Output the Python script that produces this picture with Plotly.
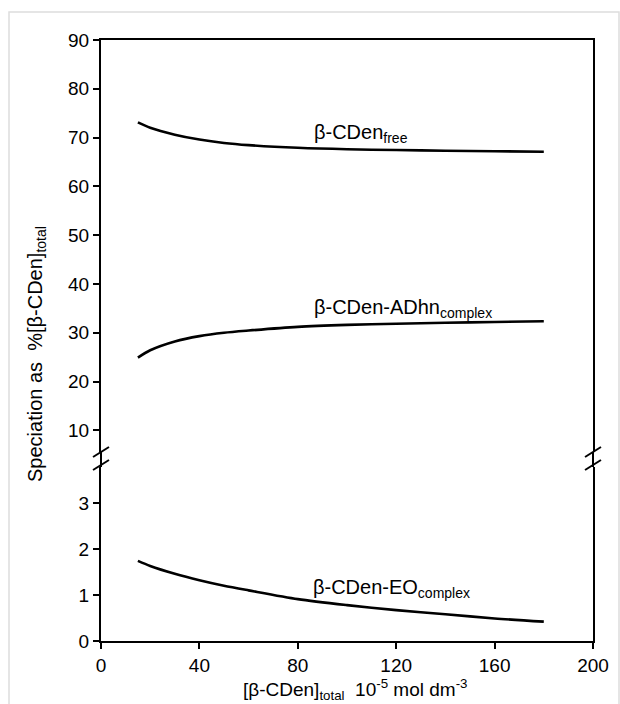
import plotly.graph_objects as go

conc = [15, 20, 30, 40, 50, 60, 80, 100, 120, 140, 160, 180]
free = [73.1, 72.0, 70.6, 69.6, 68.9, 68.45, 67.9, 67.6, 67.45, 67.3, 67.2, 67.1]
adhn = [24.9, 26.4, 28.2, 29.3, 30.0, 30.45, 31.2, 31.6, 31.85, 32.05, 32.2, 32.35]
eo = [1.74, 1.63, 1.46, 1.32, 1.2, 1.1, 0.91, 0.78, 0.67, 0.58, 0.49, 0.42]

upper_ticks = [10, 20, 30, 40, 50, 60, 70, 80, 90]
lower_ticks = [0, 1, 2, 3]
x_ticks = [0, 40, 80, 120, 160, 200]

FONT = "Liberation Sans"
W, H = 620, 704
L, R, T, B = 101, 27, 40, 63
plot_h = H - T - B
plot_w = W - L - R
up_bot_px = 452
lo_top_px = 467
up_dom = [(H - B - up_bot_px) / plot_h, 1.0]
lo_dom = [0.0, (H - B - lo_top_px) / plot_h]

line = dict(color="black", width=2.6, shape="spline", smoothing=0.8)

fig = go.Figure()
fig.add_trace(go.Scatter(x=conc, y=free, mode="lines", line=line, xaxis="x2", yaxis="y2", showlegend=False))
fig.add_trace(go.Scatter(x=conc, y=adhn, mode="lines", line=line, xaxis="x2", yaxis="y2", showlegend=False))
fig.add_trace(go.Scatter(x=conc, y=eo, mode="lines", line=line, xaxis="x", yaxis="y", showlegend=False))

tickfont = dict(family=FONT, size=19, color="black")
common_axis = dict(showline=True, linecolor="black", linewidth=2, ticks="outside",
                   ticklen=6, tickwidth=2, tickcolor="black", showgrid=False,
                   zeroline=False, tickfont=tickfont)

fig.update_layout(
    width=W, height=H,
    margin=dict(l=L, r=R, t=T, b=B),
    paper_bgcolor="white", plot_bgcolor="white",
    xaxis=dict(common_axis, range=[0, 200], tickvals=x_ticks, anchor="y",
               domain=[0, 1], mirror=False),
    yaxis=dict(common_axis, range=[0, 3.78], tickvals=lower_ticks, domain=lo_dom,
               anchor="x", mirror=True),
    xaxis2=dict(range=[0, 200], anchor="y2", side="top", showticklabels=False,
                showline=True, linecolor="black", linewidth=2, ticks="",
                showgrid=False, zeroline=False, matches="x"),
    yaxis2=dict(common_axis, range=[5.55, 90], tickvals=upper_ticks, domain=up_dom,
                anchor="x2", mirror=True),
)

# curve labels
lab_font = dict(family=FONT, size=20, color="black")
fig.add_annotation(x=105.7, y=70.8, xref="x2", yref="y2", text="β-CDen<sub>free</sub>",
                   showarrow=False, font=lab_font)
fig.add_annotation(x=122.8, y=35.0, xref="x2", yref="y2", text="β-CDen-ADhn<sub>complex</sub>",
                   showarrow=False, font=lab_font)
fig.add_annotation(x=117.9, y=1.15, xref="x", yref="y", text="β-CDen-EO<sub>complex</sub>",
                   showarrow=False, font=lab_font)

# axis titles
fig.add_annotation(x=(36 - L) / plot_w, y=(H - B - 354) / plot_h, xref="paper", yref="paper",
                   text="Speciation as  %[β-CDen]<sub>total</sub>", textangle=-90,
                   showarrow=False, font=lab_font, xanchor="center", yanchor="middle")
fig.add_annotation(x=(355 - L) / plot_w, y=(H - B - 689) / plot_h, xref="paper", yref="paper",
                   text="[β-CDen]<sub>total</sub>  10<sup>-5</sup> mol dm<sup>-3</sup>",
                   showarrow=False, font=dict(family=FONT, size=19, color="black"),
                   xanchor="center", yanchor="middle")

# axis break marks
def px2paper(px, py):
    return (px - L) / plot_w, (H - B - py) / plot_h

for ax_px in (L, W - R):
    for yb in (up_bot_px, lo_top_px - 2):
        x0, y0 = px2paper(ax_px - 8, yb + 5)
        x1, y1 = px2paper(ax_px + 8, yb - 5)
        fig.add_shape(type="line", xref="paper", yref="paper", x0=x0, y0=y0, x1=x1, y1=y1,
                      line=dict(color="black", width=2))
    xa, ya = px2paper(ax_px, up_bot_px)
    xb, yb2 = px2paper(ax_px, lo_top_px)
    fig.add_shape(type="line", xref="paper", yref="paper", x0=xa, y0=ya, x1=xb, y1=yb2,
                  line=dict(color="black", width=2))

# outer light frame
fx0, fy0 = px2paper(9, 12)
fx1, fy1 = px2paper(619, 710)
fig.add_shape(type="rect", xref="paper", yref="paper", x0=fx0, y0=fy0, x1=fx1, y1=fy1,
              line=dict(color="#dddddd", width=1.5), layer="below")

fig.write_html("out.html")
